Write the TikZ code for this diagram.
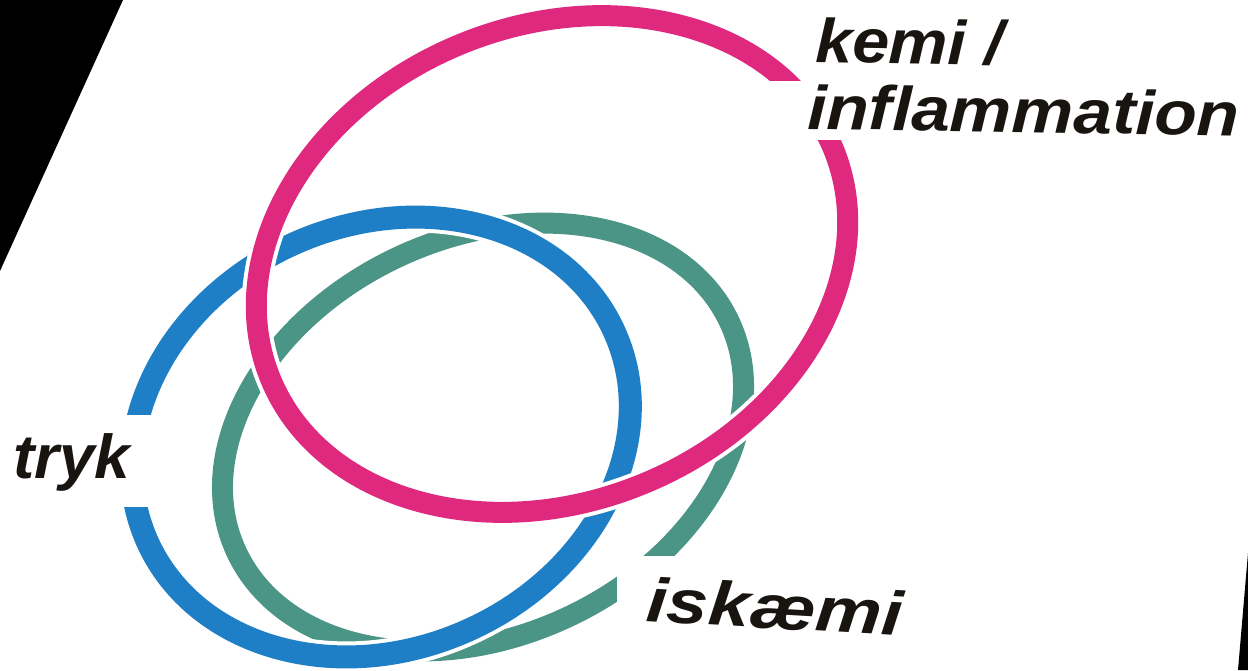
\documentclass[tikz,border=0pt]{standalone}
\definecolor{RingPink}{RGB}{222,41,126}
\definecolor{RingBlue}{RGB}{30,127,198}
\definecolor{RingGreen}{RGB}{75,149,134}
\definecolor{InkBlack}{RGB}{24,20,16}
\usepackage{fontspec}
\setmainfont{Liberation Sans}
\usepackage{tikz}
\usetikzlibrary{positioning, calc}

\tikzset{
  ring/.style={line width=#1, preaction={draw=white, line width=#1+8pt}},
  ringlabel/.style={inner sep=0pt, text=InkBlack, font=\fontsize{62}{66}\selectfont\bfseries\itshape}
}

\begin{document}
\begin{tikzpicture}[x=1pt, y=-1pt]
\useasboundingbox (0,0) rectangle (1248,670);
\fill[white] (0,0) rectangle (1248,670);
% dark edges of the photographed slide
\fill[black] (0,0) -- (123,0) -- (0,271) -- cycle;
\fill[black] (1248,553) -- (1238,670) -- (1248,670) -- cycle;

% rings, back to front
\draw[RingGreen, ring=21pt, rotate around={25:(483,437)}] (483,437) ellipse [x radius=272, y radius=199];
\draw[RingBlue, ring=23pt, rotate around={24:(381,437)}] (381,437) ellipse [x radius=256, y radius=212];
\draw[RingPink, ring=21pt, rotate around={22:(552,264)}] (552,264) ellipse [x radius=304, y radius=238];

% openings for the labels
\fill[white] (740,81) rectangle (870,140);
\fill[white] (100,415) rectangle (175,507);
\fill[white] (617,556) rectangle (730,680);

% labels
\node[ringlabel, anchor=base west, xscale=1.12, rotate=-1] (inflam) at (807,129) {inflammation};
\node[ringlabel, anchor=base west, xscale=1.07, rotate=-1] (kemi) at (815,62) {kemi /};
\node[ringlabel, anchor=base west, xscale=1.03] (tryk) at (13,478) {tryk};
\node[ringlabel, anchor=base west, xscale=1.2, rotate=-4] (iskaemi) at (645,621) {iskæmi};
\end{tikzpicture}
\end{document}
